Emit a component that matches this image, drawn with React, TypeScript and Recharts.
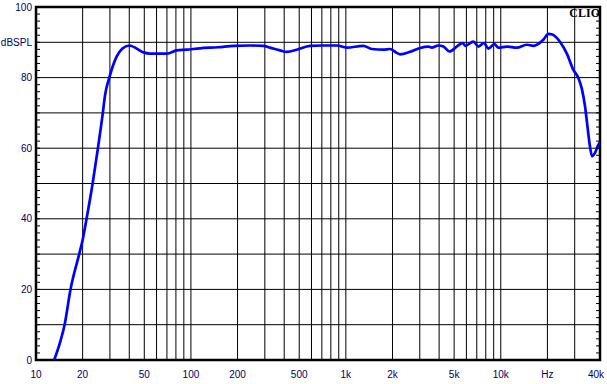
import React from "react";
import {
  CartesianGrid,
  Line,
  LineChart,
  ReferenceArea,
  ReferenceLine,
  XAxis,
  YAxis
} from "recharts";

const freqs = [
  13.1, 14.3, 15.3, 16.7, 19.0, 20, 21.2, 23.2, 25.1, 27.0, 27.9, 29.7, 33.2, 36, 40, 49, 54, 70, 81, 94, 114,
  150, 190, 241, 293, 324, 376, 415, 482, 587, 700, 874, 1013, 1297, 1469, 1747, 1928, 2131, 2240, 2600, 3016,
  3411, 3588, 3955, 4265, 4660, 5200, 5690, 5890, 6660, 7170, 7800, 8320, 9090, 9650, 10940, 12690, 14720,
  16230, 18820, 20290, 21500, 24150, 26700, 29430, 31700, 33370, 35000, 36260, 37360, 38850, 40600, 42680, 44000
];

const spl = [
  0, 5, 10, 20, 30, 34, 40, 50, 60, 70, 75, 79.9, 86.0, 88.2, 89.1, 87.2, 86.8, 86.8, 87.7, 87.9, 88.3,
  88.6, 89.0, 89.1, 89.0, 88.5, 87.7, 87.3, 87.9, 89.0, 89.1, 89.1, 88.5, 89.0, 88.1, 87.9, 88.1, 87.0, 86.6, 87.3, 88.4,
  88.8, 88.5, 89.1, 88.8, 87.4, 88.8, 89.8, 89.0, 90.2, 88.8, 89.8, 88.2, 89.5, 88.5, 88.8, 88.5, 89.3,
  89.0, 90.7, 92.4, 92.2, 90.1, 86.8, 82.2, 79.9, 76.8, 71.8, 66.2, 61.5, 57.7, 58.7, 61.0, 61.9
];

const gridFreqs = [
  10, 20, 30, 40, 50, 60, 70, 80, 90, 100, 200, 300, 400, 500, 600, 700, 800, 900, 1000, 2000, 3000, 4000,
  5000, 6000, 7000, 8000, 9000, 10000, 20000, 30000, 43700
];

const xLabels: Record<number, string> = {
  10: "10", 20: "20", 50: "50", 100: "100", 200: "200", 500: "500", 1000: "1k", 2000: "2k", 5000: "5k",
  10000: "10k", 20000: "Hz", 43700: "40k"
};

const yGrid = [0, 10, 20, 30, 40, 50, 60, 70, 80, 90, 100];
const yMinor = Array.from({ length: 51 }, (_, i) => i * 2);

const X_MAX = 43700;

const data = freqs.map((f, i) => ({ f, db: spl[i] }));

const font = { fontSize: 10, fill: "#000066", fontFamily: "'Liberation Sans', Arial, sans-serif" };

function XTick(props: any) {
  const { x, y, payload } = props;
  const label = xLabels[payload.value] ?? "";
  const dx = payload.value === X_MAX ? -4 : 0;
  return (
    <text x={x + dx} y={y} dy="0.71em" textAnchor="middle" {...font}>
      {label}
    </text>
  );
}

const NoLabel = () => <g />;

export default function App() {
  return (
    <div style={{ position: "absolute", left: 0, top: 0, width: 607, height: 384, background: "#fff" }}>
      <LineChart width={607} height={384} data={data} margin={{ top: 7, right: 6, bottom: 1, left: 0 }}>
        <CartesianGrid stroke="#000" strokeWidth={1} horizontal={false} />
        {yGrid.map((v) => (
          <ReferenceLine key={v} y={v} stroke="#000" strokeWidth={1} />
        ))}
        <XAxis
          dataKey="f"
          type="number"
          scale="log"
          domain={[10, X_MAX]}
          allowDataOverflow
          ticks={gridFreqs}
          interval={0}
          tick={<XTick />}
          tickLine={false}
          tickSize={0}
          tickMargin={11}
          axisLine={false}
          height={23}
        />
        <YAxis
          type="number"
          domain={[0, 100]}
          ticks={yMinor}
          interval={0}
          tickFormatter={(v: number) => (v === 90 ? "dBSPL" : v % 20 === 0 ? String(v) : "")}
          tickLine={{ stroke: "#000" }}
          tickSize={-4}
          tickMargin={8}
          axisLine={false}
          width={36}
          tick={font}
        />
        <YAxis yAxisId="minorR" orientation="right" type="number" domain={[0, 100]} ticks={yMinor} interval={0}
          tick={<NoLabel />} tickSize={-4} axisLine={false} width={1} tickLine={{ stroke: "#000" }} />
        <ReferenceArea x1={10} x2={X_MAX} y1={0} y2={100} fill="none" stroke="#000" strokeWidth={2.5}
          ifOverflow="visible" />
        <Line
          yAxisId="minorR"
          dataKey="db"
          stroke="none"
          dot={false}
          legendType="none"
          isAnimationActive={false}
        />
        <Line
          type="monotone"
          dataKey="db"
          stroke="#0000ff"
          strokeWidth={2.7}
          dot={false}
          isAnimationActive={false}
        />
        <text x={600} y={17} textAnchor="end" fontFamily="'Liberation Serif', 'Times New Roman', serif"
          fontWeight="bold" fontSize={12} fill="#000">CLIO</text>
      </LineChart>
    </div>
  );
}
